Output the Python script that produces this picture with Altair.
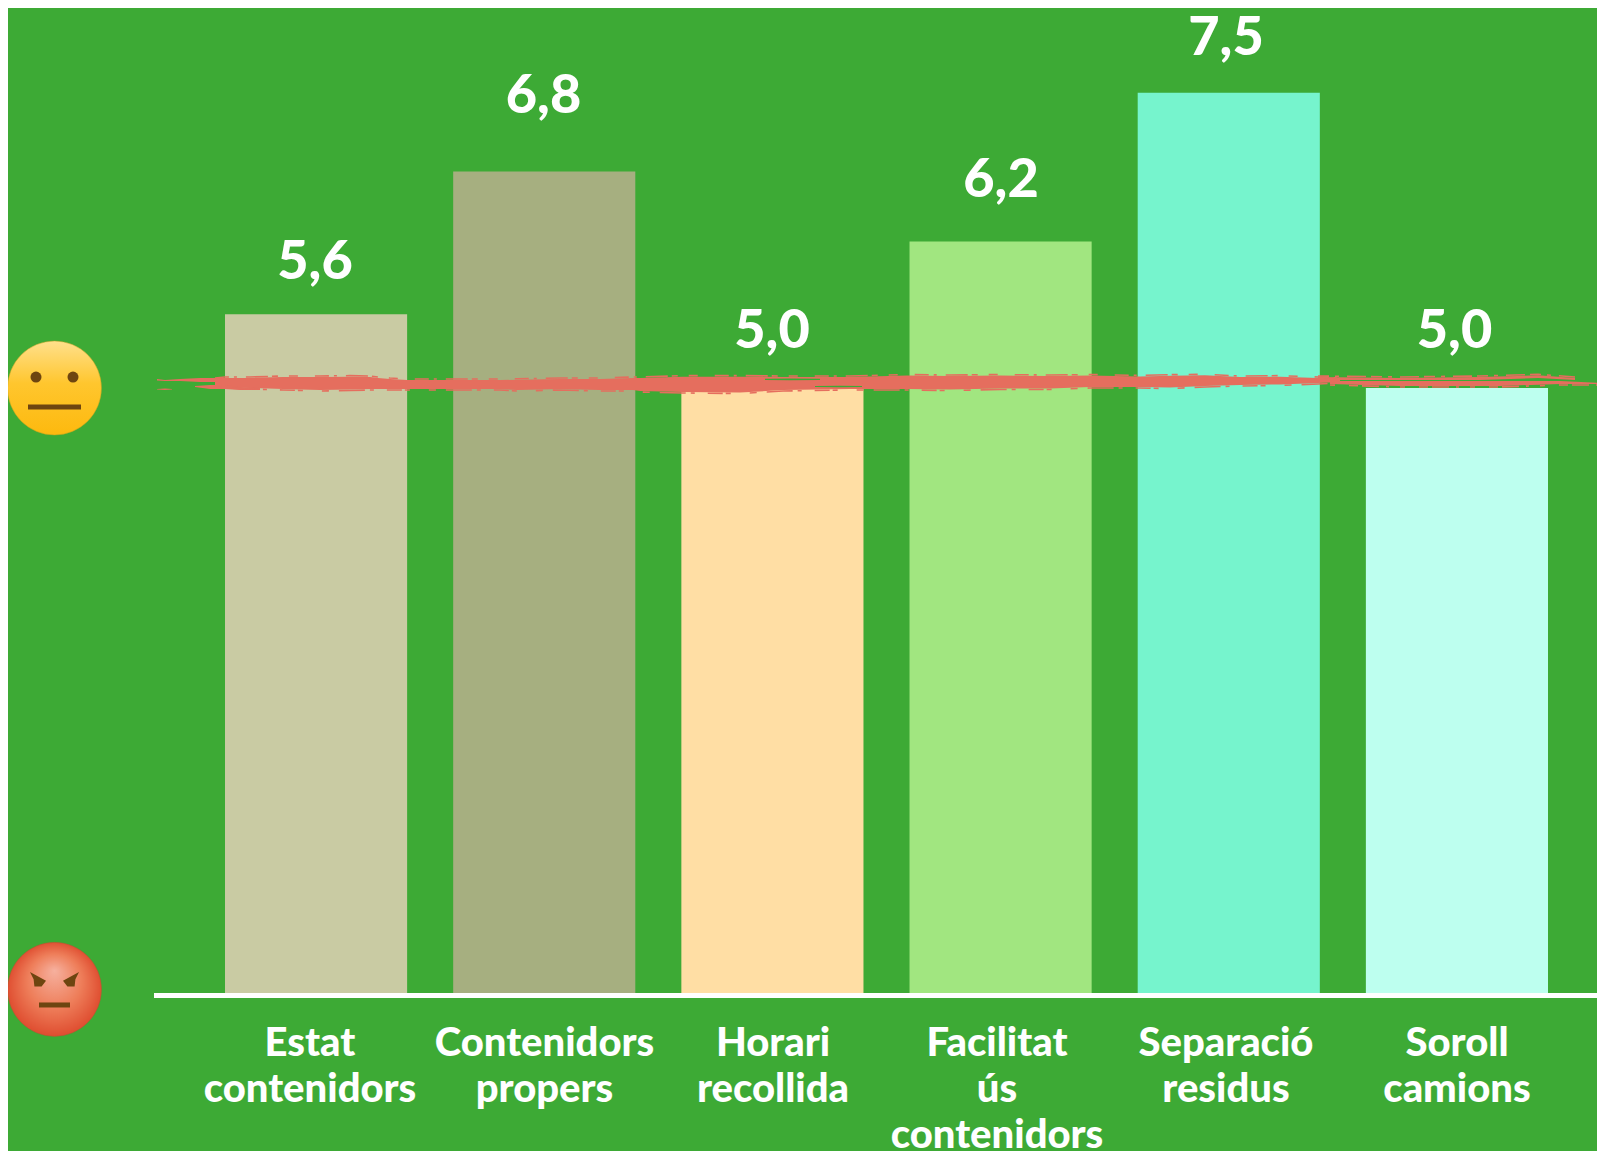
import altair as alt
import pandas as pd

# ---- chart values -------------------------------------------------------
categories = ["Estat|contenidors", "Contenidors|propers", "Horari|recollida",
              "Facilitat|ús|contenidors", "Separació|residus", "Soroll|camions"]
bar_heights = [5.61, 6.79, 5.0, 6.21, 7.44, 5.0]
value_labels = ["5,6", "6,8", "5,0", "6,2", "7,5", "5,0"]
bar_colors = ["#C9CBA3", "#A6AF80", "#FFDEA4", "#A1E680", "#76F4CD", "#BDFFEF"]
label_score = [5.90, 7.27, 5.33, 6.58, 7.75, 5.33]
label_x = [315, 543.5, 772, 1001, 1226, 1454.5]
category_x = [310, 544.5, 773, 997, 1226, 1457]

# hand-drawn reference line at about score 5 (x along the chart, score top/bottom)
main_x = [215, 225, 250, 283, 320, 350, 370, 378, 390, 407, 450, 500, 517, 560, 600, 633, 640,
          683, 740, 783, 850, 907, 950, 1000, 1050, 1090, 1140, 1170, 1205, 1240, 1280, 1318, 1340]
main_top = [5.074, 5.083, 5.083, 5.091, 5.091, 5.094, 5.091, 5.083, 5.074, 5.066, 5.066, 5.066, 5.068,
            5.074, 5.074, 5.083, 5.083, 5.094, 5.094, 5.091, 5.091, 5.103, 5.099, 5.103, 5.099, 5.103,
            5.096, 5.102, 5.105, 5.091, 5.094, 5.083, 5.074]
main_bottom = [5.017, 5.008, 5.000, 4.992, 4.983, 4.987, 4.992, 4.992, 4.992, 4.992, 4.992, 4.992, 4.983,
               4.992, 4.983, 4.983, 4.975, 4.967, 4.963, 4.983, 4.992, 4.992, 4.987, 4.996, 4.996, 5.008,
               5.008, 5.004, 5.017, 5.025, 5.029, 5.041, 5.050]
strand_a_x = [157, 165, 180, 200, 225]
strand_a_top = [5.074, 5.066, 5.074, 5.083, 5.083]
strand_a_bottom = [5.062, 5.058, 5.058, 5.050, 5.050]
strand_b_x = [195, 210, 225, 240, 260]
strand_b_top = [5.017, 5.025, 5.025, 5.008, 5.000]
strand_b_bottom = [5.008, 4.992, 4.992, 4.983, 4.983]
strand_c_x = [157, 165, 172]
strand_c_top = [4.992, 4.996, 4.992]
strand_c_bottom = [4.988, 4.983, 4.988]
strand_d_x = [1318, 1400, 1480, 1538, 1575]
strand_d_top = [5.091, 5.083, 5.091, 5.105, 5.083]
strand_d_bottom = [5.066, 5.066, 5.066, 5.083, 5.066]
strand_e_x = [1330, 1400, 1500, 1560, 1605]
strand_e_top = [5.058, 5.058, 5.058, 5.058, 5.041]
strand_e_bottom = [5.033, 5.017, 5.017, 5.033, 5.033]
gap_a_x = [765, 790, 820]
gap_a_top = [5.076, 5.078, 5.076]
gap_a_bottom = [5.066, 5.064, 5.066]
gap_b_x = [815, 840, 862]
gap_b_top = [5.017, 5.019, 5.017]
gap_b_bottom = [5.008, 5.006, 5.008]

# emoji faces on the score axis
face_x = [54.5, 54.5]
face_score = [5.0, 0.03]
neutral_eye_x = [36, 73]
neutral_eye_score = [5.09, 5.09]
neutral_mouth = (28, 81, 4.843)
angry_eye_x = [38, 71]
angry_eye_score = [0.107, 0.107]
angry_mouth = (39, 70, -0.099)

GREEN = "#3DAA35"
RED = "#E56E5E"
BROWN = "#6E4510"
FONT = "Lato"

# ---- scales ---------------------------------------------------------------
y_scale = alt.Scale(domain=[0, 8.1405], nice=False, zero=False)
px_scale = alt.Scale(domain=[0, 1605], range=[-154, 1451], nice=False, zero=False)
band_scale = alt.Scale(domain=categories, range=[71, 1394], paddingInner=0.2018, paddingOuter=0)

def px(field):
    return alt.X(field, type="quantitative", scale=px_scale, axis=None)

def yv(field):
    return alt.Y(field, type="quantitative", scale=y_scale, axis=None)

df = pd.DataFrame({
    "category": categories, "height": bar_heights, "label": value_labels,
    "color": bar_colors, "lscore": label_score, "lx": label_x, "cx": category_x,
    "zero": [0] * 6,
})

bars = alt.Chart(df).mark_bar().encode(
    x=alt.X("category:N", scale=band_scale, axis=None, sort=categories),
    y=yv("height"),
    color=alt.Color("category:N", scale=alt.Scale(domain=categories, range=bar_colors), legend=None),
)

base_df = pd.DataFrame({"a": [154], "b": [1597], "s": [0]})
baseline = alt.Chart(base_df).mark_rule(color="white", strokeWidth=5, yOffset=2.5).encode(
    x=px("a"), x2="b:Q", y=yv("s"))

values = alt.Chart(df).mark_text(
    font=FONT, fontWeight=900, fontSize=54, color="white", align="center", baseline="alphabetic"
).encode(x=px("lx"), y=yv("lscore"), text="label:N")

cats = alt.Chart(df).mark_text(
    font=FONT, fontWeight=900, fontSize=40, color="white", align="center", baseline="alphabetic",
    lineBreak="|", lineHeight=46, yOffset=63
).encode(x=px("cx"), y=yv("zero"), text="category:N")

def strand(xs, top, bottom, colour):
    d = pd.DataFrame({"x": xs, "t": top, "b": bottom})
    return alt.Chart(d).mark_area(color=colour, opacity=1).encode(x=px("x"), y=yv("t"), y2="b:Q")

def fringe(xs, ys, dash, offset):
    d = pd.DataFrame({"x": xs, "y": ys})
    return alt.Chart(d).mark_line(color=RED, strokeWidth=1.6, strokeDash=dash, yOffset=offset).encode(
        x=px("x"), y=yv("y"))

brush = [
    strand(main_x, main_top, main_bottom, RED),
    strand(strand_a_x, strand_a_top, strand_a_bottom, RED),
    strand(strand_b_x, strand_b_top, strand_b_bottom, RED),
    strand(strand_c_x, strand_c_top, strand_c_bottom, RED),
    strand(strand_d_x, strand_d_top, strand_d_bottom, RED),
    strand(strand_e_x, strand_e_top, strand_e_bottom, RED),
    strand(gap_a_x, gap_a_top, gap_a_bottom, GREEN),
    strand(gap_b_x, gap_b_top, gap_b_bottom, GREEN),
    fringe(main_x, main_top, [14, 5, 3, 9, 22, 4, 6, 11, 9, 17], -1),
    fringe(main_x, main_bottom, [7, 10, 26, 5, 4, 13, 15, 3, 5, 19], 1),
    fringe(strand_d_x, strand_d_top, [11, 6, 4, 8, 19, 5], -1),
    fringe(strand_e_x, strand_e_bottom, [5, 14, 9, 4, 17, 7, 3, 11], 1),
]

neutral_fill = alt.Gradient(gradient="linear", x1=0.5, y1=0, x2=0.5, y2=1, stops=[
    alt.GradientStop(offset=0, color="#FFE08C"),
    alt.GradientStop(offset=0.45, color="#FFC62E"),
    alt.GradientStop(offset=1, color="#FDB90E")])
angry_fill = alt.Gradient(gradient="radial", x1=0.5, y1=0.3, r1=0, x2=0.5, y2=0.5, r2=0.52, stops=[
    alt.GradientStop(offset=0, color="#F6B09E"),
    alt.GradientStop(offset=0.55, color="#EE7E5A"),
    alt.GradientStop(offset=1, color="#DE4A2D")])

face_df = pd.DataFrame({"x": face_x, "s": face_score})
neutral_face = alt.Chart(face_df.iloc[[0]]).mark_circle(size=8836, fill=neutral_fill, opacity=1, stroke="#B9A020", strokeWidth=0.5).encode(x=px("x"), y=yv("s"))
angry_face = alt.Chart(face_df.iloc[[1]]).mark_circle(size=8836, fill=angry_fill, opacity=1, stroke="#A85A30", strokeWidth=0.5).encode(x=px("x"), y=yv("s"))

neutral_eyes = alt.Chart(pd.DataFrame({"x": neutral_eye_x, "s": neutral_eye_score})).mark_circle(
    size=121, color=BROWN, opacity=1).encode(x=px("x"), y=yv("s"))

def mouth(m):
    d = pd.DataFrame({"a": [m[0]], "b": [m[1]], "s": [m[2]]})
    return alt.Chart(d).mark_rule(color=BROWN, strokeWidth=5).encode(x=px("a"), x2="b:Q", y=yv("s"))

left_eye = "M-1 -1 L1 0.1 L0.45 0.8 L-0.45 0.8 L-0.55 -0.1 Z"
right_eye = "M1 -1 L-1 0.1 L-0.45 0.8 L0.45 0.8 L0.55 -0.1 Z"
angry_left = alt.Chart(pd.DataFrame({"x": angry_eye_x[:1], "s": angry_eye_score[:1]})).mark_point(
    shape=left_eye, size=256, filled=True, color=BROWN, opacity=1).encode(x=px("x"), y=yv("s"))
angry_right = alt.Chart(pd.DataFrame({"x": angry_eye_x[1:], "s": angry_eye_score[1:]})).mark_point(
    shape=right_eye, size=256, filled=True, color=BROWN, opacity=1).encode(x=px("x"), y=yv("s"))

chart = alt.layer(
    bars, baseline, values, cats, *brush,
    neutral_face, neutral_eyes, mouth(neutral_mouth),
    angry_face, angry_left, angry_right, mouth(angry_mouth),
).resolve_scale(x="independent", color="independent").properties(
    width=1443, height=985, background=GREEN,
    padding={"left": 146, "top": 0, "right": 0, "bottom": 158},
    autosize=alt.AutoSizeParams(type="none"),
).configure_view(stroke=None)

chart.save("out.html", embed_options={"renderer": "svg", "actions": False})
